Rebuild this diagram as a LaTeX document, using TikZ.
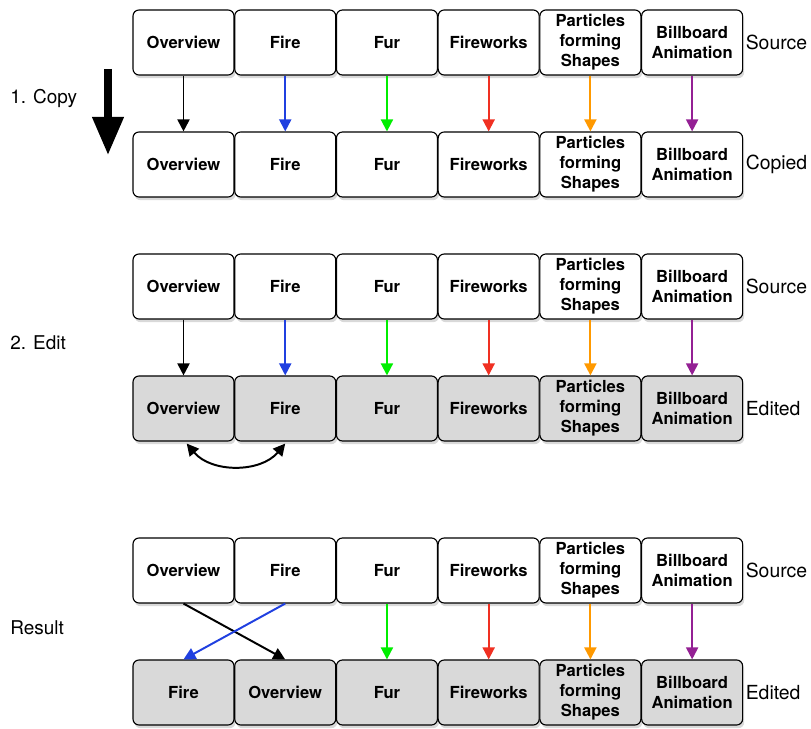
\documentclass[tikz,border=0pt]{standalone}
\usepackage{fontspec}
\setmainfont{TeX Gyre Heros}
\usepackage{tikz}
\usetikzlibrary{arrows.meta,positioning,shadows}
\definecolor{Azul}{HTML}{2040E0}
\definecolor{Verde}{HTML}{00EE00}
\definecolor{Rojo}{HTML}{F03022}
\definecolor{Naranja}{HTML}{FF9900}
\definecolor{Morado}{HTML}{942094}
\definecolor{GrisClaro}{HTML}{D9D9D9}

% fila de seis escenas
\newcommand{\escenas}[5]{%
  \node[escena,#3] (#1-1) at (4.5875,#2) {#4};
  \node[escena,#3,right=-0.01cm of #1-1] (#1-2) {#5};
  \node[escena,#3,right=-0.01cm of #1-2] (#1-3) {Fur};
  \node[escena,#3,right=-0.01cm of #1-3] (#1-4) {Fireworks};
  \node[escena,#3,right=-0.01cm of #1-4] (#1-5) {Particles\\forming\\Shapes};
  \node[escena,#3,right=-0.01cm of #1-5] (#1-6) {Billboard\\Animation};
}

\begin{document}
\begin{tikzpicture}[
  escena/.style={draw,line width=0.8pt,rounded corners=0.15cm,fill=white,
    minimum width=2.525cm,minimum height=1.625cm,inner sep=0pt,align=center,
    font=\fontsize{11.8}{14.2}\selectfont\bfseries,
    drop shadow={shadow xshift=0.04cm,shadow yshift=-0.08cm,opacity=0.3}},
  editada/.style={fill=GrisClaro},
  link/.style={-{Triangle[length=0.3cm,width=0.3cm]},line width=1.4pt},
  swap/.style={{Triangle[length=0.3cm,width=0.3cm]}-{Triangle[length=0.3cm,width=0.3cm]},line width=1.4pt},
  bigarrow/.style={-{Triangle[length=0.95cm,width=0.75cm]},line width=0.18cm},
  fila/.style={font=\fontsize{13.8}{16}\selectfont,inner sep=0.5pt},
  paso/.style={font=\fontsize{13.5}{16}\selectfont,anchor=west,inner sep=0pt}
]
  \useasboundingbox (0,0) rectangle (20.275,18.225);

  % 1. Copiar
  \escenas{s1}{17.1625}{}{Overview}{Fire}
  \escenas{c1}{14.1125}{}{Overview}{Fire}
  \node[fila,right=0.04cm of s1-6] (ls1) {Source};
  \node[fila,right=0.04cm of c1-6] (lc1) {Copied};
  \node[paso] (copy) at (0.25,15.775) {1. Copy};
  \coordinate (b1) at (2.7,16.5);
  \coordinate (b2) at (2.7,14.35);
  \draw[bigarrow] (b1) -- (b2);
  \foreach \i/\col in {1/black,2/Azul,3/Verde,4/Rojo,5/Naranja,6/Morado}
    \draw[link,color=\col] (s1-\i) -- (c1-\i);

  % 2. Editar
  \escenas{s2}{11.0625}{}{Overview}{Fire}
  \escenas{e2}{8.0125}{editada}{Overview}{Fire}
  \node[fila,right=0.04cm of s2-6] (ls2) {Source};
  \node[fila,right=0.04cm of e2-6] (le2) {Edited};
  \node[paso] (edit) at (0.25,9.65) {2. Edit};
  \foreach \i/\col in {1/black,2/Azul,3/Verde,4/Rojo,5/Naranja,6/Morado}
    \draw[link,color=\col] (s2-\i) -- (e2-\i);
  \draw[swap] ([xshift=0.08cm,yshift=-0.05cm]e2-1.south) to[bend right=50]
    ([yshift=-0.05cm]e2-2.south);

  % Resultado
  \escenas{s3}{3.9625}{}{Overview}{Fire}
  \escenas{e3}{0.9125}{editada}{Fire}{Overview}
  \node[fila,right=0.04cm of s3-6] (ls3) {Source};
  \node[fila,right=0.04cm of e3-6] (le3) {Edited};
  \node[paso] (result) at (0.25,2.525) {Result};
  \draw[link] (s3-1.south) -- (e3-2.north);
  \draw[link,color=Azul] (s3-2.south) -- (e3-1.north);
  \foreach \i/\col in {3/Verde,4/Rojo,5/Naranja,6/Morado}
    \draw[link,color=\col] (s3-\i) -- (e3-\i);
\end{tikzpicture}
\end{document}
